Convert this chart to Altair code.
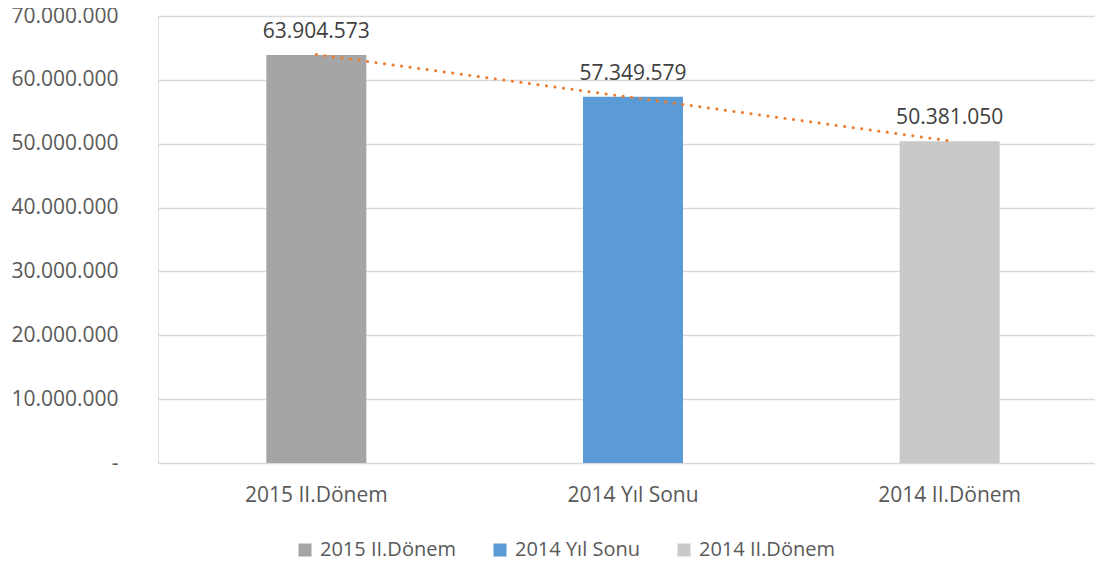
import altair as alt
import pandas as pd
import json

categories = ["2015 II.Dönem", "2014 Yıl Sonu", "2014 II.Dönem"]
values = [63904573, 57349579, 50381050]
colors = ["#A5A5A5", "#5B9BD5", "#C9C9C9"]
y_ticks = [0, 10000000, 20000000, 30000000, 40000000, 50000000, 60000000, 70000000]

df = pd.DataFrame({"cat": categories, "value": values, "idx": list(range(len(categories)))})

FONT = "Open Sans"
XRANGE = [0, 950]
YSCALE = alt.Scale(domain=[0, 70000000], nice=False)

xband = alt.X("cat:N", sort=categories,
              scale=alt.Scale(range=XRANGE, paddingInner=0.5, paddingOuter=0.25),
              axis=alt.Axis(title=None, labelAngle=0, ticks=False, domain=False,
                            labelFontSize=21, labelColor="#595959", labelFont=FONT,
                            labelPadding=21))

yenc = alt.Y("value:Q", scale=YSCALE,
             axis=alt.Axis(title=None, values=y_ticks, ticks=False, domain=False,
                           grid=True, gridColor="#D9D9D9", gridWidth=1.5,
                           labelFontSize=21, labelColor="#595959", labelFont=FONT,
                           labelPadding=40,
                           labelExpr="datum.value == 0 ? '-' : join(split(format(datum.value, ','), ','), '.')"))

bars = alt.Chart(df).mark_bar(size=100).encode(
    x=xband,
    y=yenc,
    color=alt.Color("cat:N", sort=categories,
                    scale=alt.Scale(domain=categories, range=colors),
                    legend=alt.Legend(title=None, orient="none", direction="horizontal",
                                      legendX=137, legendY=524,
                                      symbolType="square", symbolSize=169,
                                      symbolStrokeWidth=0, labelFontSize=20,
                                      labelFont=FONT, labelColor="#595959",
                                      labelOffset=5, columnPadding=34)),
)

labels = alt.Chart(df).transform_calculate(
    lbl="join(split(format(datum.value, ','), ','), '.')"
).mark_text(baseline="alphabetic", dy=-17, fontSize=21, font=FONT, color="#404040").encode(
    x=alt.X("cat:N", sort=categories),
    y=alt.Y("value:Q"),
    text="lbl:N",
)

trend = alt.Chart(df).transform_regression("idx", "value").transform_calculate(
    cat=json.dumps(categories) + "[datum.idx]"
).mark_line(
    color="#ED7D31", strokeWidth=3, strokeDash=[0.1, 8.5], strokeCap="round"
).encode(
    x=alt.X("cat:N", sort=categories),
    y=alt.Y("value:Q"),
)

chart = alt.layer(bars, labels, trend).properties(
    width=937, height=447,
    autosize=alt.AutoSizeParams(type="none"),
    padding={"left": 150, "top": 8, "right": 0, "bottom": 100},
).configure_view(stroke="transparent", strokeWidth=0).configure(background="white")

chart.save("out.html", embed_options={"renderer": "svg", "actions": False})
